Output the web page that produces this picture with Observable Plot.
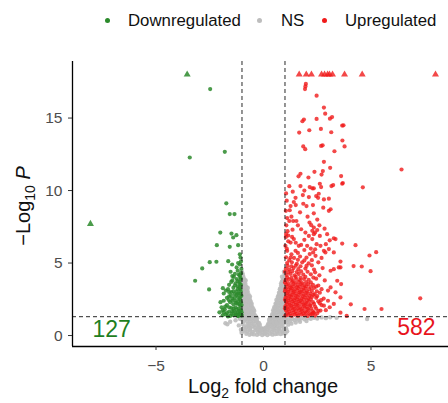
<!DOCTYPE html>
<html><head><meta charset="utf-8">
<script src="https://cdn.jsdelivr.net/npm/d3@7"></script>
<script src="https://cdn.jsdelivr.net/npm/@observablehq/plot@0.6"></script>
<style>
body{margin:0;background:#fff;font-family:"Liberation Sans",Arial,sans-serif;}
#wrap{position:relative;width:448px;height:403px;overflow:hidden;}
#legend{position:absolute;left:0;top:0;width:448px;height:40px;font-size:16.8px;color:#111;}
.li{position:absolute;top:11px;line-height:20px;white-space:nowrap;}
.dot{position:absolute;width:5px;height:5px;border-radius:50%;top:18px;}
#chart{position:absolute;left:0;top:40px;}
</style></head><body>
<div id="wrap"><div id="legend"></div><div id="chart"></div></div>
<script>
// ---- data (log2 fold change, -log10 P) ----
const legendLabels = ["Downregulated", "NS", "Upregulated"];
const countLabels = ["127", "582"];
const xTicks = [-5, 0, 5];
const yTicks = [0, 5, 10, 15];
const fcCutoff = 1;
const pCutoff = 1.3;

const nsPoints = [
[-1.02,4.45],[-0.98,4.3],[0.98,4.25],[1.0,4.1],
[-1.04,4.05],[-0.93,4.0],[-0.88,3.85],[0.93,3.95],[0.89,3.8],[1.0,3.7],
[-1.0,3.78],[-0.9,3.72],[-0.83,3.8],[0.86,3.72],[0.95,3.8],
[-1.03,3.6],[-0.95,3.5],[-0.84,3.55],[-0.79,3.35],[0.82,3.45],[0.9,3.5],[0.97,3.3],[0.78,3.25],
[-1.01,3.28],[-0.9,3.25],[-0.8,3.2],[-0.73,3.28],[0.76,3.2],[0.84,3.28],[0.93,3.2],[1.0,3.1],
[-1.02,3.1],[-0.92,3.15],[-0.85,3.0],[-0.74,3.05],[-0.7,2.85],[0.72,2.95],[0.8,3.05],[0.88,2.9],[0.96,2.95],[0.69,2.75],
[-0.98,2.8],[-0.88,2.75],[-0.78,2.8],[-0.68,2.72],[-0.63,2.7],[0.66,2.65],[0.74,2.78],[0.92,2.72],[1.0,2.85],
[-1.0,2.6],[-0.92,2.55],[-0.83,2.6],[-0.74,2.5],[-0.65,2.55],[-0.6,2.35],[-0.86,2.35],[0.6,2.45],[0.68,2.55],[0.76,2.4],[0.85,2.5],[0.94,2.45],[1.0,2.6],[0.82,2.7],
[-1.0,2.3],[-0.9,2.25],[-0.8,2.28],[-0.7,2.25],[-0.61,2.22],[-0.55,2.2],[0.56,2.2],[0.7,2.28],[0.78,2.22],[0.94,2.3],[1.02,2.2],
[-1.01,2.1],[-0.93,2.0],[-0.84,2.1],[-0.75,2.0],[-0.66,2.1],[-0.57,2.05],[-0.5,1.9],[-0.98,1.85],[-0.7,1.85],[0.5,1.95],[0.58,2.1],[0.66,1.95],[0.74,2.1],[0.82,2.0],[0.9,2.15],[0.98,2.0],[0.62,2.25],[0.86,1.8],
[-1.0,1.78],[-0.9,1.72],[-0.8,1.78],[-0.6,1.75],[-0.5,1.72],[-0.43,1.7],[0.45,1.75],[0.6,1.8],[0.68,1.72],[0.92,1.78],[1.0,1.8],
[-1.02,1.6],[-0.94,1.5],[-0.86,1.62],[-0.78,1.5],[-0.7,1.6],[-0.62,1.48],[-0.54,1.6],[-0.46,1.5],[-0.4,1.4],[-0.88,1.35],[-0.66,1.3],[0.4,1.45],[0.47,1.6],[0.55,1.45],[0.63,1.6],[0.71,1.5],[0.79,1.62],[0.87,1.5],[0.95,1.6],[1.02,1.45],[0.52,1.75],[0.75,1.3],
[-1.0,1.28],[-0.9,1.22],[-0.8,1.28],[-0.72,1.22],[-0.55,1.26],[-0.47,1.22],[-0.38,1.25],[-0.3,1.2],[0.3,1.2],[0.38,1.28],[0.46,1.22],[0.6,1.27],[0.68,1.22],[0.84,1.28],[0.93,1.22],[1.0,1.0],[-0.25,0.85],[0.22,0.8],
[-1.0,1.1],[-0.92,1.0],[-0.84,1.12],[-0.76,0.98],[-0.68,1.1],[-0.6,0.98],[-0.52,1.1],[-0.44,0.98],[-0.36,1.1],[-0.29,0.95],[-0.96,0.8],[-0.56,0.82],[0.28,0.95],[0.35,1.1],[0.43,0.98],[0.51,1.12],[0.59,0.98],[0.67,1.1],[0.75,0.98],[0.83,1.12],[0.91,0.98],[0.99,1.1],[0.4,0.8],[0.7,0.82],[1.05,1.25],
[-0.9,0.6],[-0.8,0.55],[-0.7,0.65],[-0.6,0.52],[-0.5,0.64],[-0.4,0.55],[-0.32,0.7],[-0.24,0.58],[-0.17,0.72],[-0.1,0.5],[0.12,0.55],[0.19,0.7],[0.26,0.57],[0.34,0.68],[0.42,0.55],[0.5,0.65],[0.58,0.52],[0.66,0.64],[0.74,0.55],[0.84,0.62],[0.94,0.55],[-0.75,0.78],[-0.45,0.8],[0.3,0.82],[0.55,0.8],[0.85,0.8],
[-0.75,0.28],[-0.62,0.35],[-0.5,0.25],[-0.38,0.36],[-0.26,0.24],[-0.14,0.35],[-0.05,0.22],[0.05,0.34],[0.15,0.25],[0.27,0.36],[0.39,0.24],[0.51,0.35],[0.63,0.26],[0.75,0.32],[0.88,0.3],[-0.02,0.45],[0.06,0.5],
[-0.45,0.08],[-0.3,0.05],[-0.18,0.12],[-0.06,0.03],[0.06,0.1],[0.18,0.04],[0.3,0.12],[0.42,0.06],[0.55,0.1],
[-0.96,4.15],[-0.92,3.62],[-0.86,3.4],[-0.96,3.4],[-0.78,3.0],[-0.96,2.95],[-0.7,2.62],[-0.88,2.65],[-0.62,2.4],[-0.78,2.42],[-0.95,2.42],[-0.55,2.0],[-0.62,1.85],[-0.82,1.9],[-0.46,1.8],[-0.58,1.62],[-0.74,1.7],[-0.5,1.4],[-0.74,1.38],[-0.96,1.4],[-0.34,1.3],[-0.4,1.15],[-0.62,1.15],[-0.88,1.15],[-0.32,1.0],[-0.2,0.85],[-0.65,0.78],[-0.85,0.4],[-0.95,0.3],[-0.65,0.45],[-0.3,0.4],[-0.2,0.45],[-0.08,0.38],[-0.55,0.12],[0.65,0.12],[0.08,0.2],[0.2,0.45],[0.45,0.42],[0.7,0.42],[0.95,0.4],[0.9,0.15],[0.8,0.1],[-0.8,0.12],[-0.65,0.05],[0.35,0.95],[0.48,0.86],[0.62,0.86],[0.8,0.9],[0.95,0.85],[0.26,1.08],[0.42,1.35],[0.55,1.3],[0.88,1.35],[0.98,1.3],[0.5,1.55],[0.7,1.65],[0.84,1.68],[0.96,1.65],[0.54,1.95],[0.72,1.88],[0.92,1.9],[0.64,2.35],[0.86,2.35],[0.98,2.4],[0.72,2.62],[0.86,2.6],[0.96,2.6],[0.75,2.9],[0.92,3.0],[0.82,3.6],[0.96,3.55],[0.86,4.05],[0.95,4.4],
[1.05,1.05],[1.1,0.95],[1.18,1.12],[1.25,1.0],[1.35,1.15],[1.45,1.05],[1.55,1.18],[1.65,1.08],[1.75,1.2],[1.9,1.12],[2.05,1.2],[2.2,1.15],[2.35,1.22],[2.5,1.18],[2.7,1.25],[2.9,1.2],[3.1,1.26],[1.15,0.75],[1.3,0.82],[1.5,0.9],[1.7,0.95],[2.0,1.0],[1.05,0.5],[1.1,0.3],[1.02,0.15],[4.82,1.14],[3.4,1.22],
[-1.77,0.85],[-1.68,0.78],[-1.55,0.95],[-1.3,1.05],[-1.15,0.7],[-1.1,1.15],[-1.05,0.4],[-1.02,0.2]
];

const downPoints = [
[-3.43,12.28],[-1.8,12.67],[-2.48,17.0],[-1.73,9.12],[-1.57,8.38],[-1.35,8.38],[-2.01,7.1],[-1.49,7.03],[-1.26,6.92],[-1.41,6.76],
[-2.17,6.23],[-1.57,6.12],[-1.18,6.23],[-1.1,5.6],[-1.07,5.38],[-2.5,5.06],[-2.19,5.09],[-1.64,5.13],[-1.46,4.9],[-2.85,4.63],
[-1.53,4.4],[-1.2,4.47],[-3.18,3.78],[-1.38,4.05],[-2.53,3.18],[-1.89,3.27],
[-1.05,5.1],[-1.1,4.9],[-1.03,4.6],[-1.15,4.2],[-1.08,4.0],[-1.25,3.9],[-1.45,3.8],[-1.12,3.7],[-1.3,3.6],[-1.05,3.5],[-1.6,3.5],
[-1.2,3.4],[-1.4,3.3],[-1.08,3.2],[-1.75,3.1],[-1.25,3.05],[-1.5,3.0],[-1.1,2.9],[-1.35,2.85],[-1.03,2.75],[-1.6,2.7],[-1.2,2.65],
[-1.45,2.55],[-1.1,2.5],[-1.3,2.4],[-1.85,2.4],[-1.05,2.3],[-1.55,2.3],[-1.22,2.2],[-1.4,2.15],[-1.7,2.1],[-1.08,2.05],[-1.3,1.95],
[-1.95,1.95],[-1.5,1.9],[-1.15,1.85],[-1.8,1.8],[-1.05,1.75],[-1.38,1.7],[-1.6,1.65],[-1.2,1.6],[-2.05,1.6],[-1.48,1.5],[-1.1,1.5],
[-1.75,1.45],[-1.3,1.42],[-1.9,1.4],[-1.02,1.38],[-1.55,1.35],[-1.18,1.33],[-1.65,1.32],[-2.0,2.3],[-1.9,1.75],[-1.85,2.9],[-1.7,2.6],
[-1.05,4.3],[-1.18,5.0],[-1.12,3.3],[-1.25,2.8],[-1.02,2.1],[-1.02,1.6],[-1.15,1.45],[-1.45,4.1],[-1.6,3.0],
[-1.3,1.55],[-1.45,1.65],[-1.7,1.55],[-1.85,1.6],[-1.12,1.7],[-1.25,1.8],[-1.4,1.85],[-1.6,1.95],[-1.78,2.0],[-1.12,2.15],[-1.28,2.25],
[-1.45,2.4],[-1.62,2.45],[-1.15,2.4],[-1.35,2.6],[-1.52,2.75],[-1.08,2.65],[-1.18,2.9],[-1.4,3.05],[-1.06,3.05],[-1.65,3.2],[-1.2,3.2],
[-1.33,3.45],[-1.1,3.55],[-1.5,3.7],[-1.2,3.75],[-1.06,3.9],[-1.33,4.25],[-1.1,4.15],[-1.25,4.7],[-1.03,1.45],[-1.2,1.38],[-1.4,1.4]
];

const upPoints = [
[1.95,17.18],[1.93,17.0],[1.97,17.35],[2.47,16.54],[2.81,15.72],[2.87,15.3],[3.09,14.96],[3.19,15.07],[2.47,14.94],[1.88,14.9],[1.81,14.78],
[3.66,14.48],[3.72,14.5],[1.66,14.0],[2.13,14.16],[2.67,14.25],[3.15,14.02],[3.67,13.45],[3.77,13.04],[1.85,13.04],[1.94,12.85],
[2.68,13.08],[2.75,13.12],[3.3,12.71],[2.81,11.98],[3.1,11.57],[2.37,11.29],[2.76,11.34],[2.7,11.1],[1.72,11.16],[1.63,10.98],[2.09,10.9],
[3.61,11.0],[6.42,11.45],[4.62,10.22],[3.69,10.52],
[1.72,10.31],[2.15,10.24],[2.27,10.15],[2.34,10.15],[2.62,10.47],[2.68,10.24],[3.16,10.31],[3.24,10.38],[3.66,10.47],[1.36,9.92],[1.83,9.69],
[2.11,9.55],[2.45,9.62],[2.54,9.5],[2.81,9.39],[3.04,9.44],[1.49,9.5],[1.41,9.21],[1.26,8.93],[1.22,8.64],[1.85,9.09],[2.0,8.93],[2.78,8.82],
[3.12,8.71],[2.34,8.43],[3.04,8.6],[2.57,9.78],[1.38,7.9],[1.53,7.9],[2.14,7.79],[2.22,7.61],[2.34,7.45],[2.27,7.22],[2.4,7.1],[2.5,7.28],[1.75,7.33],
[2.84,7.37],[2.96,6.99],[3.35,6.65],[1.95,7.1],[2.34,6.99],[1.33,6.8],[1.41,6.65],[1.26,6.41],[2.11,6.87],[2.27,6.65],[2.62,6.87],[3.08,6.57],[3.27,6.71],
[3.66,6.34],[1.02,6.19],[1.64,6.19],[1.75,6.25],[2.03,6.19],[2.47,6.3],[2.65,6.19],[2.81,5.84],[3.04,5.96],[1.1,5.84],[1.49,5.84],[2.31,5.73],
[2.15,5.62],[2.42,5.5],[2.88,5.73],[3.27,5.73],[1.26,5.38],[3.58,5.1],
[4.28,6.23],[5.24,5.75],[4.93,5.52],[4.19,4.79],[4.57,4.76],[4.98,4.44],[7.29,2.57],[4.06,2.15],[4.7,1.83],[5.49,1.83],[3.87,1.35],
[3.58,4.7],[3.12,4.47],[3.27,4.58],[3.5,4.7],[3.43,3.78],[3.61,3.55],[3.12,3.32],[3.35,2.98],[3.58,2.63],[3.08,1.95],[3.27,2.18],[2.81,2.06],
[2.65,1.72],[2.34,1.6],[3.58,1.58],[2.5,1.53],[2.27,1.49],
[1.02,1.38],[1.15,1.42],[1.3,1.36],[1.45,1.44],[1.6,1.37],[1.75,1.45],[1.9,1.4],[2.05,1.35],[2.2,1.43],[2.4,1.38],
[1.05,1.72],[1.2,1.66],[1.35,1.75],[1.5,1.68],[1.65,1.76],[1.8,1.7],[1.95,1.65],[2.1,1.74],[2.28,1.68],[2.55,1.7],[2.9,1.75],
[1.02,2.02],[1.12,1.95],[1.28,2.05],[1.42,1.98],[1.58,2.06],[1.72,1.96],[1.88,2.04],[2.02,1.97],[2.18,2.05],[2.4,2.0],[2.7,2.1],
[1.06,2.32],[1.2,2.26],[1.34,2.35],[1.5,2.28],[1.64,2.36],[1.8,2.3],[1.96,2.25],[2.12,2.34],[2.3,2.3],[2.55,2.36],[3.0,2.4],
[1.03,2.62],[1.16,2.56],[1.3,2.66],[1.46,2.58],[1.6,2.65],[1.76,2.56],[1.92,2.64],[2.08,2.58],[2.25,2.66],[2.45,2.6],[2.8,2.55],
[1.08,2.92],[1.22,2.86],[1.38,2.95],[1.52,2.88],[1.68,2.96],[1.84,2.87],[2.0,2.94],[2.18,2.9],[2.38,2.86],[2.62,2.95],
[1.02,3.22],[1.16,3.16],[1.3,3.25],[1.45,3.18],[1.62,3.26],[1.78,3.15],[1.95,3.24],[2.12,3.2],[2.35,3.28],[2.7,3.2],[3.0,3.1],
[1.06,3.52],[1.24,3.46],[1.4,3.56],[1.58,3.48],[1.74,3.55],[1.9,3.46],[2.08,3.54],[2.3,3.5],[2.55,3.45],
[1.03,3.82],[1.18,3.88],[1.36,3.8],[1.52,3.9],[1.7,3.82],[1.88,3.9],[2.1,3.84],[2.45,3.92],[2.85,3.8],
[1.08,4.18],[1.26,4.25],[1.45,4.15],[1.64,4.24],[1.85,4.2],[2.2,4.22],[2.6,4.15],
[1.04,4.6],[1.2,4.55],[1.4,4.65],[1.62,4.58],[1.95,4.62],[2.35,4.55],[2.75,4.65],
[1.1,5.0],[1.32,5.05],[1.55,4.95],[1.8,5.05],[2.1,4.98],[2.55,5.05],
[1.05,5.4],[1.42,5.35],[1.7,5.45],[2.0,5.38],[2.7,5.35],
[1.05,9.8],[1.08,9.3],[1.04,8.6],[1.1,8.1],[1.06,7.6],[1.12,7.2],[1.04,6.8],[1.08,6.0],[1.15,6.5],[1.05,7.0],[1.2,7.9],
[1.1,1.55],[1.25,1.52],[1.4,1.58],[1.55,1.5],[1.7,1.57],[1.85,1.53],[2.0,1.58],[2.15,1.52],[2.32,1.56],
[1.0,1.86],[1.15,1.82],[1.3,1.9],[1.45,1.84],[1.6,1.88],[1.77,1.82],[1.92,1.9],[2.06,1.84],[2.22,1.88],[2.45,1.85],
[1.08,2.16],[1.22,2.12],[1.38,2.18],[1.53,2.13],[1.68,2.2],[1.85,2.14],[2.0,2.18],[2.16,2.12],[2.35,2.18],[2.62,2.22],
[1.0,2.46],[1.14,2.42],[1.28,2.48],[1.43,2.44],[1.57,2.5],[1.72,2.42],[1.88,2.48],[2.03,2.44],[2.2,2.5],[2.68,2.44],
[1.07,2.76],[1.21,2.72],[1.35,2.8],[1.5,2.74],[1.66,2.8],[1.82,2.72],[1.98,2.78],[2.14,2.74],[2.32,2.8],[2.5,2.72],
[1.0,3.06],[1.14,3.02],[1.28,3.1],[1.42,3.04],[1.58,3.1],[1.72,3.02],[1.88,3.08],[2.04,3.02],[2.25,3.08],[2.48,3.05],
[1.1,3.36],[1.26,3.32],[1.4,3.4],[1.55,3.34],[1.7,3.38],[1.86,3.32],[2.0,3.4],[2.2,3.34],[2.45,3.38],
[1.0,3.66],[1.14,3.62],[1.32,3.7],[1.48,3.64],[1.64,3.7],[1.8,3.62],[1.98,3.68],[2.2,3.66],
[1.1,4.0],[1.3,3.98],[1.5,4.05],[1.72,3.98],[1.95,4.04],[2.32,4.0],
[1.0,4.4],[1.16,4.38],[1.34,4.44],[1.55,4.38],[1.75,4.42],[2.05,4.4],[2.4,4.36],
[1.12,4.8],[1.3,4.78],[1.5,4.82],[1.72,4.78],[2.0,4.8],[2.25,4.84],
[1.2,5.2],[1.6,5.22],[1.9,5.18],[2.25,5.2],
[1.3,5.6],[1.6,5.7],[1.9,5.9],[2.2,6.0],[1.15,6.9],[1.5,6.4],[1.9,6.6],[1.6,7.6],[1.3,8.2],[1.7,8.5],[2.05,8.2],[2.5,8.0],
[1.5,9.0],[2.3,9.0],[1.9,10.0],[1.2,10.3],[2.4,5.95],[2.9,6.3],[2.6,7.6],[1.35,7.3]
];

// points beyond the plotting limits (drawn as triangles)
const downCapped = [[-3.55,18],[-8.05,7.7]];
const upCapped = [[1.66,18],[1.99,18],[2.23,18],[2.7,18],[2.84,18],[2.98,18],[3.07,18],[3.21,18],[3.77,18],[4.59,18],[8.0,18]];

const colors = {down: "#2b8a2b", ns: "#bdbdbd", up: "#f01a1a"};

// ---- legend ----
const legend = document.getElementById("legend");
const legendItems = [
  {label: legendLabels[0], color: colors.down, dot: 105, text: 128},
  {label: legendLabels[1], color: colors.ns, dot: 257, text: 281},
  {label: legendLabels[2], color: colors.up, dot: 322, text: 345}
];
for (const it of legendItems) {
  const d = document.createElement("div");
  d.className = "dot"; d.style.left = it.dot + "px"; d.style.background = it.color;
  legend.appendChild(d);
  const t = document.createElement("div");
  t.className = "li"; t.style.left = it.text + "px"; t.textContent = it.label;
  legend.appendChild(t);
}

// ---- chart ----
const xDomain = [-8.884, 8.605];
const yDomain = [-0.756, 18.9];
const toObj = a => a.map(([x, y]) => ({x, y}));

const chart = Plot.plot({
  width: 448,
  height: 363,
  marginLeft: 72,
  marginRight: 0,
  marginTop: 21,
  marginBottom: 57,
  style: {fontFamily: "Liberation Sans, Arial, sans-serif", background: "white", overflow: "visible"},
  x: {domain: xDomain, axis: null},
  y: {domain: yDomain, axis: null},
  marks: [
    Plot.dot(toObj(nsPoints), {x: "x", y: "y", r: 2.2, fill: colors.ns, fillOpacity: 0.9}),
    Plot.dot(toObj(downPoints), {x: "x", y: "y", r: 2.1, fill: colors.down, fillOpacity: 0.85}),
    Plot.dot(toObj(upPoints), {x: "x", y: "y", r: 2.1, fill: colors.up, fillOpacity: 0.8}),
    Plot.dot(toObj(downCapped), {x: "x", y: "y", r: 2.6, symbol: "triangle", fill: colors.down, fillOpacity: 0.85}),
    Plot.dot(toObj(upCapped), {x: "x", y: "y", r: 2.6, symbol: "triangle", fill: colors.up, fillOpacity: 0.8}),
    Plot.ruleX([-fcCutoff, fcCutoff], {stroke: "#111", strokeWidth: 0.9, strokeDasharray: "4,3"}),
    Plot.ruleY([pCutoff], {stroke: "#111", strokeWidth: 0.9, strokeDasharray: "4,3"}),
    Plot.ruleX([xDomain[0]], {stroke: "black", strokeWidth: 1.3}),
    Plot.ruleY([yDomain[0]], {stroke: "black", strokeWidth: 1.3}),
    Plot.axisX({ticks: xTicks, tickSize: 4, tickPadding: 9, fontSize: 15.5, label: null, stroke: "#333"}),
    Plot.axisY({ticks: yTicks, tickSize: 4, tickPadding: 6, fontSize: 15.5, label: null, stroke: "#333"}),
    Plot.text([countLabels[0]], {frameAnchor: "bottom-left", text: d => d, dx: 20, dy: -10, lineAnchor: "bottom", textAnchor: "start", fontSize: 23, fill: "#1f7f1f"}),
    Plot.text([countLabels[1]], {frameAnchor: "bottom-right", text: d => d, dx: -13, dy: -12, lineAnchor: "bottom", textAnchor: "end", fontSize: 23, fill: "#e8141c"})
  ]
});
document.getElementById("chart").appendChild(chart);

const svg = d3.select(chart);
svg.selectAll('g[aria-label="x-axis tick label"], g[aria-label="y-axis tick label"]').attr("fill", "#4d4d4d");

// axis titles with subscripts
const xt = svg.append("text").attr("x", 263).attr("y", 353).attr("text-anchor", "middle")
  .attr("font-size", 20).attr("fill", "#111");
xt.append("tspan").text("Log");
xt.append("tspan").attr("font-size", 14).attr("dy", 5).text("2");
xt.append("tspan").attr("dy", -5).text(" fold change");

const yt = svg.append("text").attr("transform", "translate(30,166) rotate(-90)").attr("text-anchor", "middle")
  .attr("font-size", 20).attr("fill", "#111");
yt.append("tspan").text("\u2212Log");
yt.append("tspan").attr("font-size", 14).attr("dy", 5).text("10");
yt.append("tspan").attr("dy", -5).text(" ");
yt.append("tspan").attr("font-style", "italic").text("P");
</script>
</body></html>
